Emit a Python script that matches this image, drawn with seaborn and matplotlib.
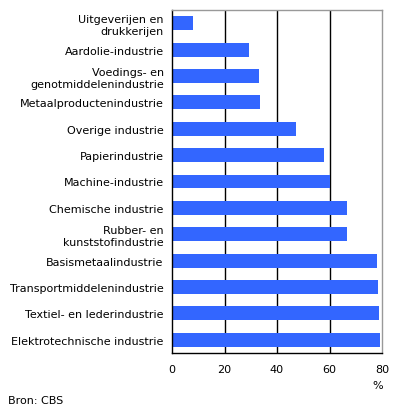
import matplotlib
matplotlib.use("Agg")
import matplotlib.pyplot as plt
import seaborn as sns
import pandas as pd

# categories top to bottom, share in %
categories = [
    "Uitgeverijen en\ndrukkerijen",
    "Aardolie-industrie",
    "Voedings- en\ngenotmiddelenindustrie",
    "Metaalproductenindustrie",
    "Overige industrie",
    "Papierindustrie",
    "Machine-industrie",
    "Chemische industrie",
    "Rubber- en\nkunststofindustrie",
    "Basismetaalindustrie",
    "Transportmiddelenindustrie",
    "Textiel- en lederindustrie",
    "Elektrotechnische industrie",
]
values = [8.0, 29.4, 33.2, 33.6, 47.2, 57.9, 60.1, 66.6, 66.6, 78.0, 78.4, 78.8, 79.1]
x_ticks = [0, 20, 40, 60, 80]

df = pd.DataFrame({"sector": categories, "pct": values})

sns.set_style("white")
plt.rcParams["font.family"] = ["DejaVu Sans"]
plt.rcParams["text.color"] = "black"
plt.rcParams["xtick.color"] = "black"
plt.rcParams["ytick.color"] = "black"

fig = plt.figure(figsize=(3.96, 4.14), dpi=100)
ax = fig.add_axes([172 / 396, 1 - 354 / 414, 210 / 396, 343 / 414])

sns.barplot(data=df, x="pct", y="sector", orient="h", color="#3366ff",
            saturation=1, width=0.53, linewidth=0, ax=ax, zorder=3)

ax.set_xlim(0, 80)
ax.set_ylim(len(categories) - 0.5, -0.5)
ax.set_xticks(x_ticks)
ax.set_xticklabels([str(t) for t in x_ticks], fontsize=8)
ax.tick_params(axis="x", direction="out", length=4, width=1, color="black", pad=4)
ax.tick_params(axis="y", length=0, pad=6, labelsize=8)
for lbl in ax.get_yticklabels():
    lbl.set_multialignment("right")
ax.set_xlabel("")
ax.set_ylabel("")

for t in x_ticks[1:-1]:
    ax.axvline(t, color="black", lw=1, zorder=1)

ax.spines["left"].set_color("black")
ax.spines["bottom"].set_color("black")
ax.spines["top"].set_color("#999999")
ax.spines["right"].set_color("#999999")
for s in ax.spines.values():
    s.set_linewidth(1)
    s.set_zorder(4)

fig.text(378 / 396, 1 - 386 / 414, "%", fontsize=8, ha="center", va="center")
fig.text(8 / 396, 1 - 401 / 414, "Bron: CBS", fontsize=8, ha="left", va="center")

fig.savefig("out.png", dpi=100)
